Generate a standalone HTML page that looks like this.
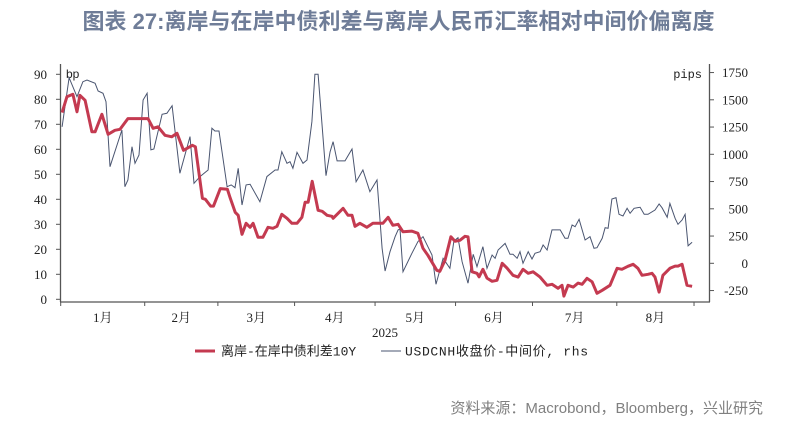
<!DOCTYPE html>
<html><head><meta charset="utf-8"><style>
html,body{margin:0;padding:0;background:#fff;}
body{width:797px;height:423px;overflow:hidden;position:relative;font-family:"Liberation Sans","Noto Sans CJK SC",sans-serif;}
#title{position:absolute;left:0;width:797px;top:4px;text-align:center;font-size:22px;font-weight:bold;color:#6f7d98;font-family:"Liberation Sans","Noto Sans CJK SC",sans-serif;white-space:nowrap;}
#source{position:absolute;right:34px;top:397px;font-size:15px;color:#808080;font-family:"Liberation Sans","Noto Sans CJK SC",sans-serif;}
svg{position:absolute;left:0;top:0;}
</style></head><body>
<div id="title">图表 27:离岸与在岸中债利差与离岸人民币汇率相对中间价偏离度</div>
<svg id="chart" width="797" height="423"></svg>
<div id="source">资料来源：Macrobond，Bloomberg，兴业研究</div>
<script>
const monthLabels=["1月","2月","3月","4月","5月","6月","7月","8月"];
const monthTicks=[0,31,58,86.3,116,145.7,174.1,205.2,233.7];
const leftTicks=[0,10,20,30,40,50,60,70,80,90];
const rightTicks=[-250,0,250,500,750,1000,1250,1500,1750];
const spreadDays=[0.5,2.3,4.5,6,7.1,9,11.5,12.7,15.2,17.5,20,21.9,24.8,32.2,34.1,35.9,38.5,41,42.9,45.3,48.6,49.7,52.3,53.4,55.3,56.4,58.9,61.5,62.6,64.4,65.5,66.9,68.4,69.9,71,72.8,74.6,76.5,78.3,79.8,81.6,83.5,85.3,87.2,89,90.2,91.3,92.8,95,96.5,98.3,100.1,100.5,104.2,106,107.5,108.6,110.4,113,115.2,118.9,120.8,122.6,124.5,126.3,129.6,131.8,133.7,135.5,138.8,139.9,141.8,144,145.5,147.3,149.2,150.3,151.8,153.6,154.4,155.8,157.3,159.2,161,162.9,164.7,166.9,168.8,170.6,172.5,174.3,176.9,179.5,181.3,183.5,185,185.7,187.2,189.1,190.9,192.4,194.2,196.1,197.9,199.8,202.7,205.3,207.1,209.3,211.2,213,214.5,216.7,218.2,219.3,220.8,222.2,224.8,226.7,227.8,229.3,231.1,233];
const spreadValues=[74.7,81,82,75,81.6,79.6,67,67,74,66,67.6,68,72.3,72.3,68.4,69,65.6,65,66.4,59.6,61.6,61,40.4,40,37.3,37.3,44.3,44,40.4,34.8,33.6,26,30.4,28.8,30.4,24.8,24.8,28.8,28.4,29.2,34,32.4,30.4,30.4,32.8,38.8,38.8,47.2,35.6,35.2,33.6,33.2,32.4,36.4,33.6,33.6,29.2,30.4,28.8,30.4,30.4,32.8,29.6,30,27,27.3,26.4,20.4,17.6,11.6,11.2,15.6,25,23.2,23.6,25.2,25,11,10.4,9,12,8.5,7.2,7.6,14.4,12.5,9.6,8.9,12,10.4,11,8.9,5.6,6,4.4,5.6,1.3,5.6,4.9,6.5,6,8.4,7,2.4,3.6,5.6,12.4,12,13.2,14,12.4,9.6,10,10.4,8.9,2.9,9.6,12.4,13.3,13.3,14,5.6,5.2];
const fxDays=[0.5,3.1,6,8.2,9.7,12.7,13.8,15.6,16.7,18.2,22.6,23.7,24.8,26.3,27.4,28.9,30.4,31.9,33.3,34.4,37.4,39.2,41.1,44,47.7,49.2,51.4,54.4,55.8,56.9,58.4,61.4,62.9,64.3,65.5,66.9,68.4,69.9,73.5,76.1,79.1,80.2,81.6,83.5,84.6,85.7,87.2,89.4,90.9,92.7,93.8,95,97.9,99.4,100.5,102,104.9,107.5,109,111.5,114.1,116.7,118.6,119.7,121.5,123.4,124.5,125.2,126.3,129.6,131.8,133.7,135.5,137,138.5,141.1,143.6,145.1,146.6,148.1,150.3,152.2,153.6,155.8,157.3,159.2,160.3,161.4,164,165.8,166.9,168.4,169.5,170.6,172.5,173.9,175,176.9,178,179.5,181.3,182.4,184.3,186.1,187.2,188.7,189.8,191.3,193.5,195.3,196.8,197.9,199.8,200.9,202,203.4,204.9,206,207.5,209,210.1,211.6,213.8,215.3,216.7,219.3,220.8,221.9,223.8,224.8,226.7,227.8,229.3,230.4,231.5,233];
const fxValues=[1252,1703,1528,1666,1682,1651,1581,1560,1483,886,1223,703,764,1070,917,994,1498,1560,1040,1049,1367,1376,1446,826,1162,734,795,856,1239,1214,1214,703,719,694,872,535,719,725,565,795,856,856,1024,917,932,872,1018,917,948,1299,1734,1734,804,1024,1116,939,939,1049,749,856,657,764,138,-71,106,244,306,315,-77,92,198,244,152,76,-193,46,-46,205,235,15,-183,83,-31,152,-46,76,46,122,183,83,83,46,106,0,106,39,92,106,168,122,306,306,306,229,229,351,336,404,214,244,138,143,229,327,321,590,602,450,434,505,459,505,514,450,450,489,544,510,422,550,413,358,397,450,161,193];

const svg=document.getElementById('chart');
const NS='http://www.w3.org/2000/svg';
const X=d=>60.7+d*2.71;
const YL=v=>299.3-v*2.5;
const YR=v=>263.3-v*0.109;
function mk(tag,attrs,parent){const e=document.createElementNS(NS,tag);for(const k in attrs)e.setAttribute(k,attrs[k]);(parent||svg).appendChild(e);return e;}
const serif='"Liberation Serif","Noto Serif CJK SC",serif';
let a=mk('line',{x1:60.5,y1:64,x2:60.5,y2:302,stroke:'#555','stroke-width':1.3});


a=mk('line',{x1:709.5,y1:64,x2:709.5,y2:302,stroke:'#555','stroke-width':1.3});


a=mk('line',{x1:60,y1:302,x2:710,y2:302,stroke:'#555','stroke-width':1.3});


leftTicks.forEach(v=>{const y=YL(v);
 mk('line',{x1:56,y1:y,x2:60.5,y2:y,stroke:'#555'});
 const t=mk('text',{x:47,y:y+4.5,'text-anchor':'end','font-size':13,'font-family':serif,fill:'#222'});t.textContent=v;
 
 
});
rightTicks.forEach(v=>{const y=YR(v);
 mk('line',{x1:709.5,y1:y,x2:714,y2:y,stroke:'#555'});
 const t=mk('text',{x:748,y:y+4.5,'text-anchor':'end','font-size':13,'font-family':serif,fill:'#222'});t.textContent=v;
 
 
});
monthTicks.forEach(d=>{mk('line',{x1:X(d),y1:302,x2:X(d),y2:306,stroke:'#555'});});
monthLabels.forEach((m,i)=>{const cx=(X(monthTicks[i])+X(monthTicks[i+1]))/2;
 const t=mk('text',{x:cx,y:322,'text-anchor':'middle','font-size':13,'font-family':serif,fill:'#222'});t.textContent=m;
 
 
});
let t=mk('text',{x:385,y:337,'text-anchor':'middle','font-size':13,'font-family':serif,fill:'#222'});t.textContent='2025';


t=mk('text',{x:66,y:78,'font-size':12,'font-family':'"Liberation Sans",sans-serif',fill:'#222'});t.textContent='bp';


t=mk('text',{x:702,y:78,'text-anchor':'end','font-size':12,'font-family':'"Liberation Mono",monospace',fill:'#222'});t.textContent='pips';


let p=mk('polyline',{points:fxDays.map((d,i)=>X(d).toFixed(1)+','+YR(fxValues[i]).toFixed(1)).join(' '),fill:'none',stroke:'#4a5570','stroke-width':1});


p=mk('polyline',{points:spreadDays.map((d,i)=>X(d).toFixed(1)+','+YL(spreadValues[i]).toFixed(1)).join(' '),fill:'none',stroke:'#c43a50','stroke-width':3,'stroke-linejoin':'round'});


const lg=mk('g',{});


mk('line',{x1:195,y1:351,x2:215,y2:351,stroke:'#c43a50','stroke-width':3},lg);
t=mk('text',{x:221,y:355.5,'font-size':13,'font-family':'"Liberation Mono","Noto Sans CJK SC",monospace',fill:'#222'},lg);t.textContent='离岸-在岸中债利差10Y';


mk('line',{x1:381,y1:351,x2:401,y2:351,stroke:'#4a5570','stroke-width':1},lg);
t=mk('text',{x:405,y:355.5,'font-size':13,'font-family':'"Liberation Mono","Noto Sans CJK SC",monospace',fill:'#222','textLength':183},lg);t.textContent='USDCNH收盘价-中间价, rhs';


</script>
</body></html>
